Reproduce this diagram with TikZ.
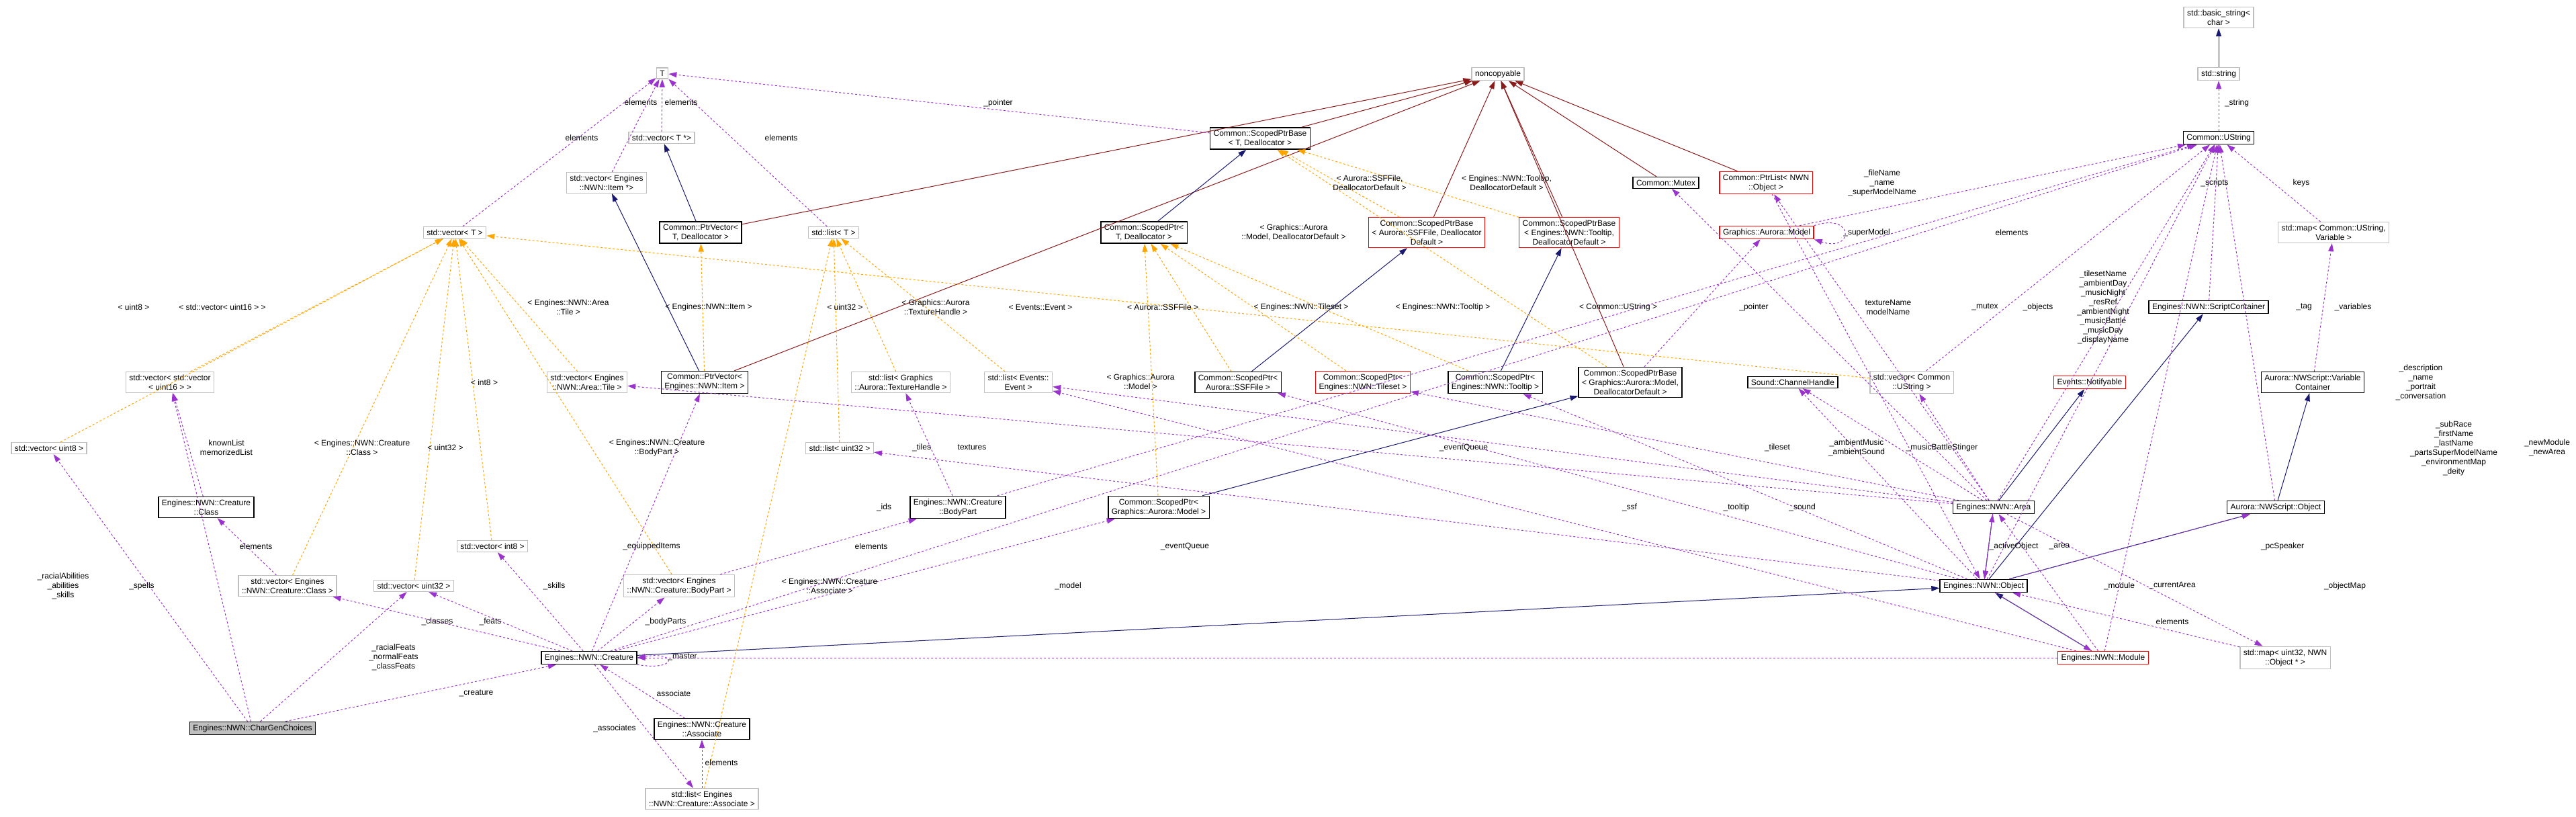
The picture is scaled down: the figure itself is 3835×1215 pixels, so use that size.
\documentclass[tikz,border=0pt]{standalone}
\usepackage{fontspec}
\setmainfont{Liberation Sans}
\usetikzlibrary{arrows.meta}
\definecolor{usecol}{HTML}{9A32CD}
\definecolor{tplcol}{HTML}{FFA500}
\definecolor{inhcol}{HTML}{191970}
\definecolor{privcol}{HTML}{8B1A1A}
\definecolor{extcol}{HTML}{BFBFBF}

\begin{document}
\begin{tikzpicture}[x=1pt,y=-1pt,
  font=\fontsize{12}{14}\selectfont,
  box/.style={draw, line width=1.4pt, fill=white, align=center, inner xsep=5pt, inner ysep=4pt},
  ext/.style={box, draw=extcol},
  trunc/.style={box, draw=red},
  root/.style={box, fill=extcol},
  lbl/.style={align=center, inner sep=1pt},
  use/.style={usecol, dashed, line width=1pt, -{Triangle[length=12pt,width=8pt]}},
  tpl/.style={tplcol, dashed, line width=1pt, -{Triangle[length=12pt,width=8pt]}},
  inh/.style={inhcol, line width=1pt, -{Triangle[length=12pt,width=8pt]}},
  priv/.style={privcol, line width=1pt, -{Triangle[length=12pt,width=8pt]}}]
\useasboundingbox (0,0) rectangle (3835,1215);

% top row
\node[ext] (T) at (986,109) {T};
\node[ext] (ncp) at (2230,110) {noncopyable};
\node[ext] (bstr) at (3303,26) {std::basic\_string\textless\\char \textgreater};
\node[ext] (str) at (3303,110) {std::string};
\node[box] (ustr) at (3303,205) {Common::UString};

\node[ext] (vecTp) at (985,205) {std::vector\textless{} T *\textgreater};
\node[box] (spbT) at (1876,206) {Common::ScopedPtrBase\\\textless{} T, Deallocator \textgreater};
\node[ext] (vecItemp) at (903,272) {std::vector\textless{} Engines\\::NWN::Item *\textgreater};
\node[box] (mutex) at (2480,272) {Common::Mutex};
\node[trunc] (ptrlist) at (2629,272) {Common::PtrList\textless{} NWN\\::Object \textgreater};

% second row
\node[ext] (vecT) at (677,346) {std::vector\textless{} T \textgreater};
\node[box] (pvT) at (1043,346) {Common::PtrVector\textless\\T, Deallocator \textgreater};
\node[ext] (listT) at (1241,346) {std::list\textless{} T \textgreater};
\node[box] (spT) at (1703,346) {Common::ScopedPtr\textless\\T, Deallocator \textgreater};
\node[trunc] (spbSSF) at (2124,346) {Common::ScopedPtrBase\\\textless{} Aurora::SSFFile, Deallocator\\Default \textgreater};
\node[trunc] (spbTip) at (2336,346) {Common::ScopedPtrBase\\\textless{} Engines::NWN::Tooltip,\\DeallocatorDefault \textgreater};
\node[trunc] (model) at (2630,346) {Graphics::Aurora::Model};
\node[ext] (mapVar) at (3474,346) {std::map\textless{} Common::UString,\\Variable \textgreater};
\node[box] (scripts) at (3288,457) {Engines::NWN::ScriptContainer};

% third row
\node[ext] (vecvec) at (253,569) {std::vector\textless{} std::vector\\\textless{} uint16 \textgreater{} \textgreater};
\node[ext] (vecTile) at (874,569) {std::vector\textless{} Engines\\::NWN::Area::Tile \textgreater};
\node[box] (pvItem) at (1049,569) {Common::PtrVector\textless\\Engines::NWN::Item \textgreater};
\node[ext] (listTex) at (1341,569) {std::list\textless{} Graphics\\::Aurora::TextureHandle \textgreater};
\node[ext] (listEv) at (1516,569) {std::list\textless{} Events::\\Event \textgreater};
\node[box] (spSSF) at (1843,569) {Common::ScopedPtr\textless\\Aurora::SSFFile \textgreater};
\node[trunc] (spTile) at (2029,569) {Common::ScopedPtr\textless\\Engines::NWN::Tileset \textgreater};
\node[box] (spTip) at (2226,569) {Common::ScopedPtr\textless\\Engines::NWN::Tooltip \textgreater};
\node[box] (spbModel) at (2427,569) {Common::ScopedPtrBase\\\textless{} Graphics::Aurora::Model,\\DeallocatorDefault \textgreater};
\node[box] (sound) at (2669,569) {Sound::ChannelHandle};
\node[ext] (vecUstr) at (2846,569) {std::vector\textless{} Common\\::UString \textgreater};
\node[trunc] (notif) at (3111,569) {Events::Notifyable};
\node[box] (varcont) at (3443,569) {Aurora::NWScript::Variable\\Container};

% lower rows
\node[ext] (vecU8) at (73,667) {std::vector\textless{} uint8 \textgreater};
\node[ext] (listU32) at (1250,667) {std::list\textless{} uint32 \textgreater};
\node[box] (cls) at (307,755) {Engines::NWN::Creature\\::Class};
\node[box] (bodypart) at (1426,755) {Engines::NWN::Creature\\::BodyPart};
\node[box] (spModel) at (1725,755) {Common::ScopedPtr\textless\\Graphics::Aurora::Model \textgreater};
\node[box] (area) at (2968,755) {Engines::NWN::Area};
\node[box] (nwsobj) at (3388,755) {Aurora::NWScript::Object};
\node[ext] (vecI8) at (733,813) {std::vector\textless{} int8 \textgreater};
\node[ext] (vecCls) at (428,872) {std::vector\textless{} Engines\\::NWN::Creature::Class \textgreater};
\node[ext] (vecU32) at (616,872) {std::vector\textless{} uint32 \textgreater};
\node[ext] (vecBody) at (1011,872) {std::vector\textless{} Engines\\::NWN::Creature::BodyPart \textgreater};
\node[box] (object) at (2953,872) {Engines::NWN::Object};
\node[box] (creature) at (877,979) {Engines::NWN::Creature};
\node[trunc] (module) at (3131,979) {Engines::NWN::Module};
\node[ext] (mapObj) at (3402,979) {std::map\textless{} uint32, NWN\\::Object * \textgreater};
\node[root] (cgc) at (376,1084) {Engines::NWN::CharGenChoices};
\node[box] (assoc) at (1045,1085) {Engines::NWN::Creature\\::Associate};
\node[ext] (listAssoc) at (1045,1189) {std::list\textless{} Engines\\::NWN::Creature::Associate \textgreater};

% noncopyable
\foreach \n in {pvT,pvItem,spbT,spbSSF,spbTip,spbModel,mutex,ptrlist}
  \draw[priv] (\n) -- (ncp);

% inheritance
\foreach \a/\b in {pvT/vecTp,pvItem/vecItemp,spT/spbT,spSSF/spbSSF,spTip/spbTip,spModel/spbModel,
  creature/object,area/object,module/object,object/scripts,object/nwsobj,area/notif,nwsobj/varcont,str/bstr}
  \draw[inh] (\a) -- (\b);

% template instances
\foreach \a/\b in {vecU8/vecT,vecvec/vecT,vecCls/vecT,vecU32/vecT,vecI8/vecT,vecTile/vecT,vecBody/vecT,vecUstr/vecT,
  pvItem/pvT,listU32/listT,listTex/listT,listEv/listT,listAssoc/listT,
  spSSF/spT,spTile/spT,spTip/spT,spModel/spT,spbSSF/spbT,spbTip/spbT,spbModel/spbT}
  \draw[tpl] (\a) -- (\b);

% usage
\foreach \a/\b in {vecT/T,vecItemp/T,vecTp/T,listT/T,spbT/T,
  cgc/vecU8,cgc/vecvec,cgc/vecU32,cgc/creature,cls/vecvec,vecCls/cls,
  creature/vecCls,creature/vecU32,creature/vecI8,creature/pvItem,creature/vecBody,creature/spModel,
  creature/listAssoc,listAssoc/assoc,assoc/creature,module/creature,vecBody/bodypart,
  object/listU32,area/vecTile,bodypart/listTex,area/listEv,module/listEv,object/spSSF,area/spTile,
  object/spTip,object/sound,area/sound,area/vecUstr,area/object,object/area,module/area,object/module,
  object/nwsobj,mapObj/object,area/mapObj,module/ustr,object/ustr,creature/ustr,area/ustr,
  scripts/ustr,mapVar/ustr,varcont/mapVar,nwsobj/ustr,ustr/str,model/ustr,spbModel/model,
  bodypart/ustr,area/mutex,area/ptrlist,ptrlist/object,vecUstr/ustr}
  \draw[use] (\a) -- (\b);
\draw[use] (model.north east) .. controls +(60,-20) and +(60,20) .. (model.south east);
\draw[use] (creature.south east) .. controls +(60,10) and +(60,-10) .. (creature.east);

% template labels
\foreach \x/\y/\t in {199/457/{\textless{} uint8 \textgreater},331/457/{\textless{} std::vector\textless{} uint16 \textgreater{} \textgreater},
  539/666/{\textless{} Engines::NWN::Creature\\::Class \textgreater},663/666/{\textless{} uint32 \textgreater},
  721/569/{\textless{} int8 \textgreater},846/457/{\textless{} Engines::NWN::Area\\::Tile \textgreater},
  978/666/{\textless{} Engines::NWN::Creature\\::BodyPart \textgreater},2409/457/{\textless{} Common::UString \textgreater},
  1055/457/{\textless{} Engines::NWN::Item \textgreater},1258/457/{\textless{} uint32 \textgreater},
  1393/457/{\textless{} Graphics::Aurora\\::TextureHandle \textgreater},1549/457/{\textless{} Events::Event \textgreater},
  1235/872/{\textless{} Engines::NWN::Creature\\::Associate \textgreater},1731/457/{\textless{} Aurora::SSFFile \textgreater},
  1937/457/{\textless{} Engines::NWN::Tileset \textgreater},2148/457/{\textless{} Engines::NWN::Tooltip \textgreater},
  1698/568/{\textless{} Graphics::Aurora\\::Model \textgreater},2039/272/{\textless{} Aurora::SSFFile,\\DeallocatorDefault \textgreater},
  2243/272/{\textless{} Engines::NWN::Tooltip,\\DeallocatorDefault \textgreater},
  1926/346/{\textless{} Graphics::Aurora\\::Model, DeallocatorDefault \textgreater}}
  \node[lbl] at (\x,\y) {\t};

% member labels
\foreach \x/\y/\t in {866/205/elements,954/152/elements,1014/152/elements,1163/205/elements,1486/153/\_pointer,
  94/872/{\_racialAbilities\\\_abilities\\\_skills},211/872/\_spells,337/666/{knownList\\memorizedList},
  381/813/elements,651/925/\_classes,730/925/\_feats,586/978/{\_racialFeats\\\_normalFeats\\\_classFeats},
  825/872/\_skills,970/813/\_equippedItems,991/925/\_bodyParts,1016/978/\_master,709/1032/\_creature,
  1003/1032/associate,915/1084/\_associates,1074/1135/elements,1297/813/elements,1316/755/\_ids,
  1372/666/\_tiles,1447/666/textures,1590/872/\_model,1764/813/\_eventQueue,2179/666/\_eventQueue,
  2426/755/\_ssf,2646/666/\_tileset,2764/666/{\_ambientMusic\\\_ambientSound},2891/666/\_musicBattleStinger,
  2585/755/\_tooltip,2683/755/\_sound,2998/813/\_activeObject,3066/813/\_area,3398/813/\_pcSpeaker,
  3155/872/\_module,3234/872/\_currentArea,3491/872/\_objectMap,3234/925/elements,
  3653/667/{\_subRace\\\_firstName\\\_lastName\\\_partsSuperModelName\\\_environmentMap\\\_deity},
  3792/666/{\_newModule\\\_newArea},3330/153/\_string,2802/272/{\_fileName\\\_name\\\_superModelName},
  2779/346/\_superModel,2611/457/\_pointer,2811/457/{textureName\\modelName},2955/457/\_mutex,
  3034/457/\_objects,2995/346/elements,
  3131/457/{\_tilesetName\\\_ambientDay\\\_musicNight\\\_resRef\\\_ambientNight\\\_musicBattle\\\_musicDay\\\_displayName},
  3297/272/\_scripts,3426/272/keys,3430/457/\_tag,3503/457/\_variables,
  3604/569/{\_description\\\_name\\\_portrait\\\_conversation}}
  \node[lbl] at (\x,\y) {\t};
\end{tikzpicture}
\end{document}
